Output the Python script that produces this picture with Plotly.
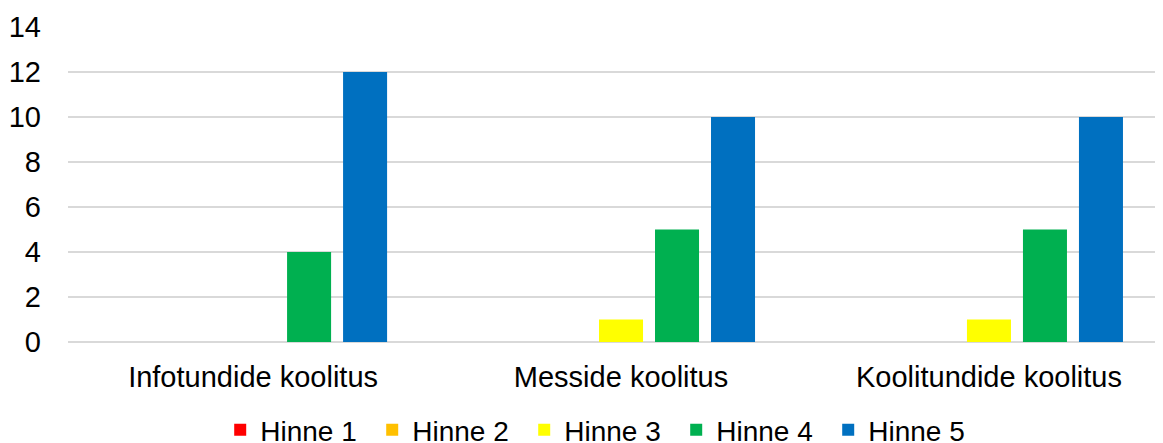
import plotly.graph_objects as go

categories = ["Infotundide koolitus", "Messide koolitus", "Koolitundide koolitus"]
series_names = ["Hinne 1", "Hinne 2", "Hinne 3", "Hinne 4", "Hinne 5"]
hinne1 = [0, 0, 0]
hinne2 = [0, 0, 0]
hinne3 = [0, 1, 1]
hinne4 = [4, 5, 5]
hinne5 = [12, 10, 10]
colors = ["#FF0000", "#FFC000", "#FFFF00", "#00B050", "#0070C0"]

fig = go.Figure()
for name, vals, col in zip(series_names, [hinne1, hinne2, hinne3, hinne4, hinne5], colors):
    fig.add_trace(go.Bar(x=categories, y=vals, name=name, marker_color=col, marker_line_width=0))

# page body has an 8px margin, so the figure is a bit smaller than the window
fig.update_layout(
    width=1155, height=435,
    margin=dict(l=60, r=0, t=19, b=101, autoexpand=False),
    paper_bgcolor="white", plot_bgcolor="white",
    font=dict(family="Liberation Sans, Arial, sans-serif", size=29, color="#000000"),
    barmode="group", bargap=0.239, bargroupgap=0.214,
    showlegend=True,
    legend=dict(orientation="h", x=0.139, xanchor="left", y=-0.2, yanchor="top",
                font=dict(size=28), itemwidth=30, traceorder="normal",
                entrywidth=107, entrywidthmode="pixels"),
)
fig.update_xaxes(range=[-0.503, 2.473], showgrid=False, showline=False, ticks="",
                 ticklabelstandoff=15, automargin=False)
fig.update_yaxes(range=[0, 14], dtick=2, showgrid=True, gridcolor="#D9D9D9", gridwidth=1.5,
                 zeroline=True, zerolinecolor="#D9D9D9", zerolinewidth=1.5,
                 ticks="", ticklabelstandoff=26, automargin=False)

fig.write_html("out.html")
